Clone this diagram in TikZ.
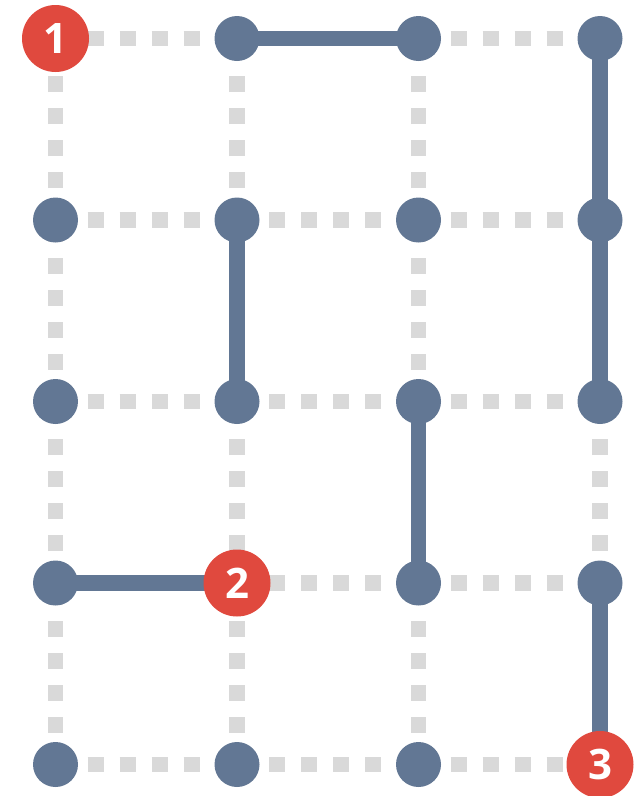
\documentclass[tikz,border=0pt]{standalone}
\usepackage{fontspec}
\setmainfont{Open Sans}
\usetikzlibrary{positioning,backgrounds}
\definecolor{pathblue}{HTML}{627794}
\definecolor{stopred}{HTML}{E0493E}
\definecolor{gridgray}{HTML}{D9D9D9}

\begin{document}
\begin{tikzpicture}[x=1pt,y=-1pt,
  dot/.style={circle,fill=pathblue,minimum size=45pt,inner sep=0pt},
  stopmark/.style={circle,fill=stopred,minimum size=67pt,inner sep=0pt,text=white,
    font=\bfseries\fontsize{42}{42}\selectfont},
  gridline/.style={draw=gridgray,line width=15.5pt,dash pattern=on 16pt off 16pt},
  pathline/.style={draw=pathblue,line width=15.5pt}]
  \useasboundingbox (0,0) rectangle (644,796);

  % Knoten im Raster
  \foreach \i/\j in {2/1,3/1,4/1,1/2,2/2,3/2,4/2,1/3,2/3,3/3,4/3,1/4,3/4,4/4,1/5,2/5,3/5}
    \node[dot] (v-\i-\j) at ({55.5+181.5*(\i-1)},{38.5+181.5*(\j-1)}) {};

  % markierte Knoten
  \node[stopmark] (v-1-1) at (55.5,38.5) {1};
  \node[stopmark] (v-2-4) at (237,583) {2};
  \node[stopmark] (v-4-5) at (600,764.5) {3};

  \begin{scope}[on background layer]
    % gepunktetes Raster
    \foreach \j in {1,2,3,4,5}
      \foreach \i/\k in {1/2,2/3,3/4}
        \draw[gridline] (v-\i-\j.center) -- (v-\k-\j.center);
    \foreach \i in {1,2,3,4}
      \foreach \j/\k in {1/2,2/3,3/4,4/5}
        \draw[gridline] (v-\i-\k.center) -- (v-\i-\j.center);

    % Wege
    \draw[pathline] (v-2-1.center) -- (v-3-1.center);
    \draw[pathline] (v-4-1.center) -- (v-4-2.center) -- (v-4-3.center);
    \draw[pathline] (v-2-2.center) -- (v-2-3.center);
    \draw[pathline] (v-3-3.center) -- (v-3-4.center);
    \draw[pathline] (v-1-4.center) -- (v-2-4.center);
    \draw[pathline] (v-4-4.center) -- (v-4-5.center);
  \end{scope}
\end{tikzpicture}
\end{document}
